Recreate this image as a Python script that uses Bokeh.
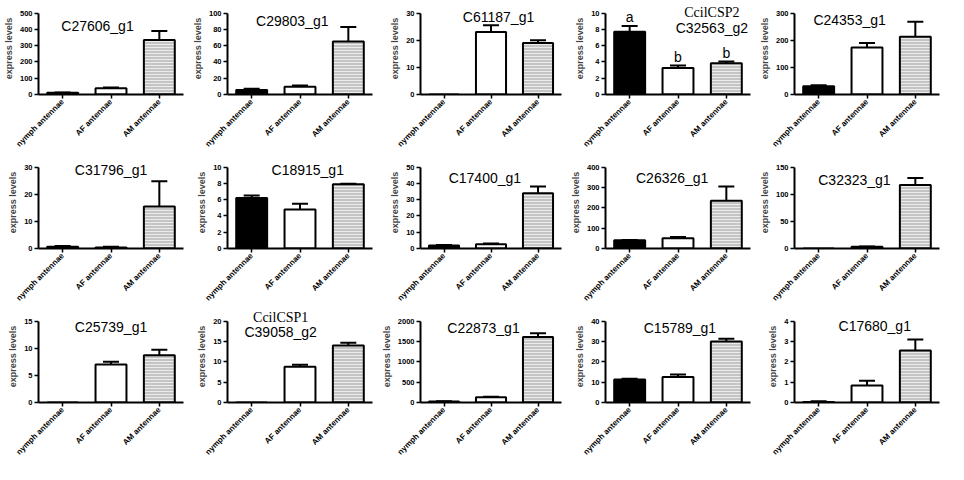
import math
from bokeh.plotting import figure
from bokeh.layouts import gridplot
from bokeh.models import (ColumnDataSource, Range1d, FixedTicker, Whisker,
                          TeeHead, Label)
from bokeh.core.properties import value
from bokeh.embed import file_html
from bokeh.resources import INLINE

categories = ["nymph antennae", "AF antennae", "AM antennae"]

names = ["C27606_g1", "C29803_g1", "C61187_g1", "C32563_g2", "C24353_g1",
         "C31796_g1", "C18915_g1", "C17400_g1", "C26326_g1", "C32323_g1",
         "C25739_g1", "C39058_g2", "C22873_g1", "C15789_g1", "C17680_g1"]
subtitles = {"C32563_g2": "CcilCSP2", "C39058_g2": "CcilCSP1"}

means = [
    [10, 38, 335],
    [5.5, 9.5, 65],
    [0, 23, 19],
    [7.7, 3.25, 3.85],
    [30, 173, 213],
    [0.6, 0.4, 15.5],
    [6.2, 4.8, 7.9],
    [1.8, 2.6, 34],
    [40, 50, 235],
    [0, 3, 117],
    [0, 7, 8.7],
    [0, 8.8, 14],
    [25, 130, 1610],
    [11.3, 12.5, 30],
    [0.02, 0.83, 2.55],
]
errors = [
    [3, 5, 55],
    [1.5, 1.5, 18],
    [0, 2.5, 1],
    [0.7, 0.3, 0.2],
    [4, 17, 55],
    [0.3, 0.2, 9.3],
    [0.3, 0.7, 0.05],
    [0.3, 0.5, 4],
    [2, 6, 70],
    [0, 0.5, 13],
    [0, 0.5, 1],
    [0, 0.5, 0.7],
    [5, 10, 90],
    [0.4, 1.2, 1.3],
    [0.04, 0.24, 0.55],
]
y_max = [500, 100, 30, 10, 300, 30, 10, 50, 400, 150, 15, 20, 2000, 40, 4]
y_step = [100, 20, 10, 2, 100, 10, 2, 10, 100, 50, 5, 5, 500, 10, 1]
sig_letters = {"C32563_g2": ["a", "b", "b"]}

# title placement (x in category units, y as fraction of y max)
title_pos = [(1.22, 0.84), (1.34, 0.9), (1.66, 0.95), (2.2, 0.82), (1.14, 0.92),
             (1.5, 0.97), (1.66, 0.97), (1.37, 0.86), (1.38, 0.86), (1.24, 0.84),
             (1.5, 0.93), (1.1, 0.86), (1.34, 0.91), (1.54, 0.91), (1.66, 0.94)]
sub_dy = {"C32563_g2": 0.19, "C39058_g2": 0.19}

fills = ["black", "white", "#c4c4c4"]
hatches = [" ", " ", "horizontal_line"]

SANS = "Liberation Sans"
SERIF = "Liberation Serif"
HEAD = 1.13  # room above the axis top for titles

figs = []
for i, name in enumerate(names):
    p = figure(x_range=categories, y_range=Range1d(0, y_max[i] * HEAD),
               width=189, height=154, output_backend="svg",
               toolbar_location=None, min_border_left=30, min_border_right=6,
               min_border_top=2, min_border_bottom=4)
    p.outline_line_color = None
    p.xgrid.visible = False
    p.ygrid.visible = False

    src = ColumnDataSource(dict(cat=categories, val=means[i], fill=fills,
                                hatch=hatches))
    p.vbar(x="cat", top="val", width=0.64, source=src, fill_color="fill",
           line_color="black", line_width=2, hatch_pattern="hatch",
           hatch_color="#ececec", hatch_scale=3, hatch_weight=1)

    ecats = [c for c, m, e in zip(categories, means[i], errors[i]) if e > 0]
    elow = [m for m, e in zip(means[i], errors[i]) if e > 0]
    eup = [m + e for m, e in zip(means[i], errors[i]) if e > 0]
    esrc = ColumnDataSource(dict(cat=ecats, low=elow, up=eup))
    w = Whisker(source=esrc, base="cat", lower="low", upper="up",
                dimension="height", line_width=2, line_color="black",
                lower_head=None,
                upper_head=TeeHead(size=16, line_width=2, line_color="black"))
    p.add_layout(w)

    if name in sig_letters:
        ly = [m + e + y_max[i] * 0.11 for m, e in zip(means[i], errors[i])]
        p.text(x=categories, y=ly, text=sig_letters[name],
               text_font=value(SANS), text_font_size="14px",
               text_align="center", text_baseline="middle", text_color="black")

    tx, ty = title_pos[i]
    p.add_layout(Label(x=tx, y=ty * y_max[i], text=name, text_font=SANS,
                       text_font_size="14px", text_align="center",
                       text_baseline="middle", text_color="black"))
    if name in subtitles:
        p.add_layout(Label(x=tx, y=(ty + sub_dy[name]) * y_max[i],
                           text=subtitles[name], text_font=SERIF,
                           text_font_size="14px", text_align="center",
                           text_baseline="middle", text_color="black"))

    p.yaxis.ticker = FixedTicker(ticks=[k * y_step[i] for k in
                                        range(int(round(y_max[i] / y_step[i])) + 1)])
    p.yaxis.bounds = (0, y_max[i])
    p.yaxis.axis_label = "express levels"
    p.yaxis.axis_label_text_font = SANS
    p.yaxis.axis_label_text_font_style = "bold"
    p.yaxis.axis_label_text_font_size = "9px"
    p.yaxis.axis_label_standoff = 3
    for ax in (p.xaxis, p.yaxis):
        ax.axis_line_width = 2
        ax.axis_line_color = "black"
        ax.major_tick_line_width = 1.5
        ax.major_tick_out = 4
        ax.major_tick_in = 0
        ax.minor_tick_line_color = None
        ax.major_label_text_font = SANS
        ax.major_label_text_font_style = "bold"
        ax.major_label_text_color = "black"
        ax.major_label_standoff = 2
    p.yaxis.major_label_text_font_size = "7.5px"
    p.xaxis.major_label_text_font_size = "8px"
    p.xaxis.major_label_orientation = math.pi / 4
    figs.append(p)

grid = gridplot([figs[0:5], figs[5:10], figs[10:15]], toolbar_location=None)

with open("out.html", "w") as f:
    f.write(file_html(grid, INLINE))
